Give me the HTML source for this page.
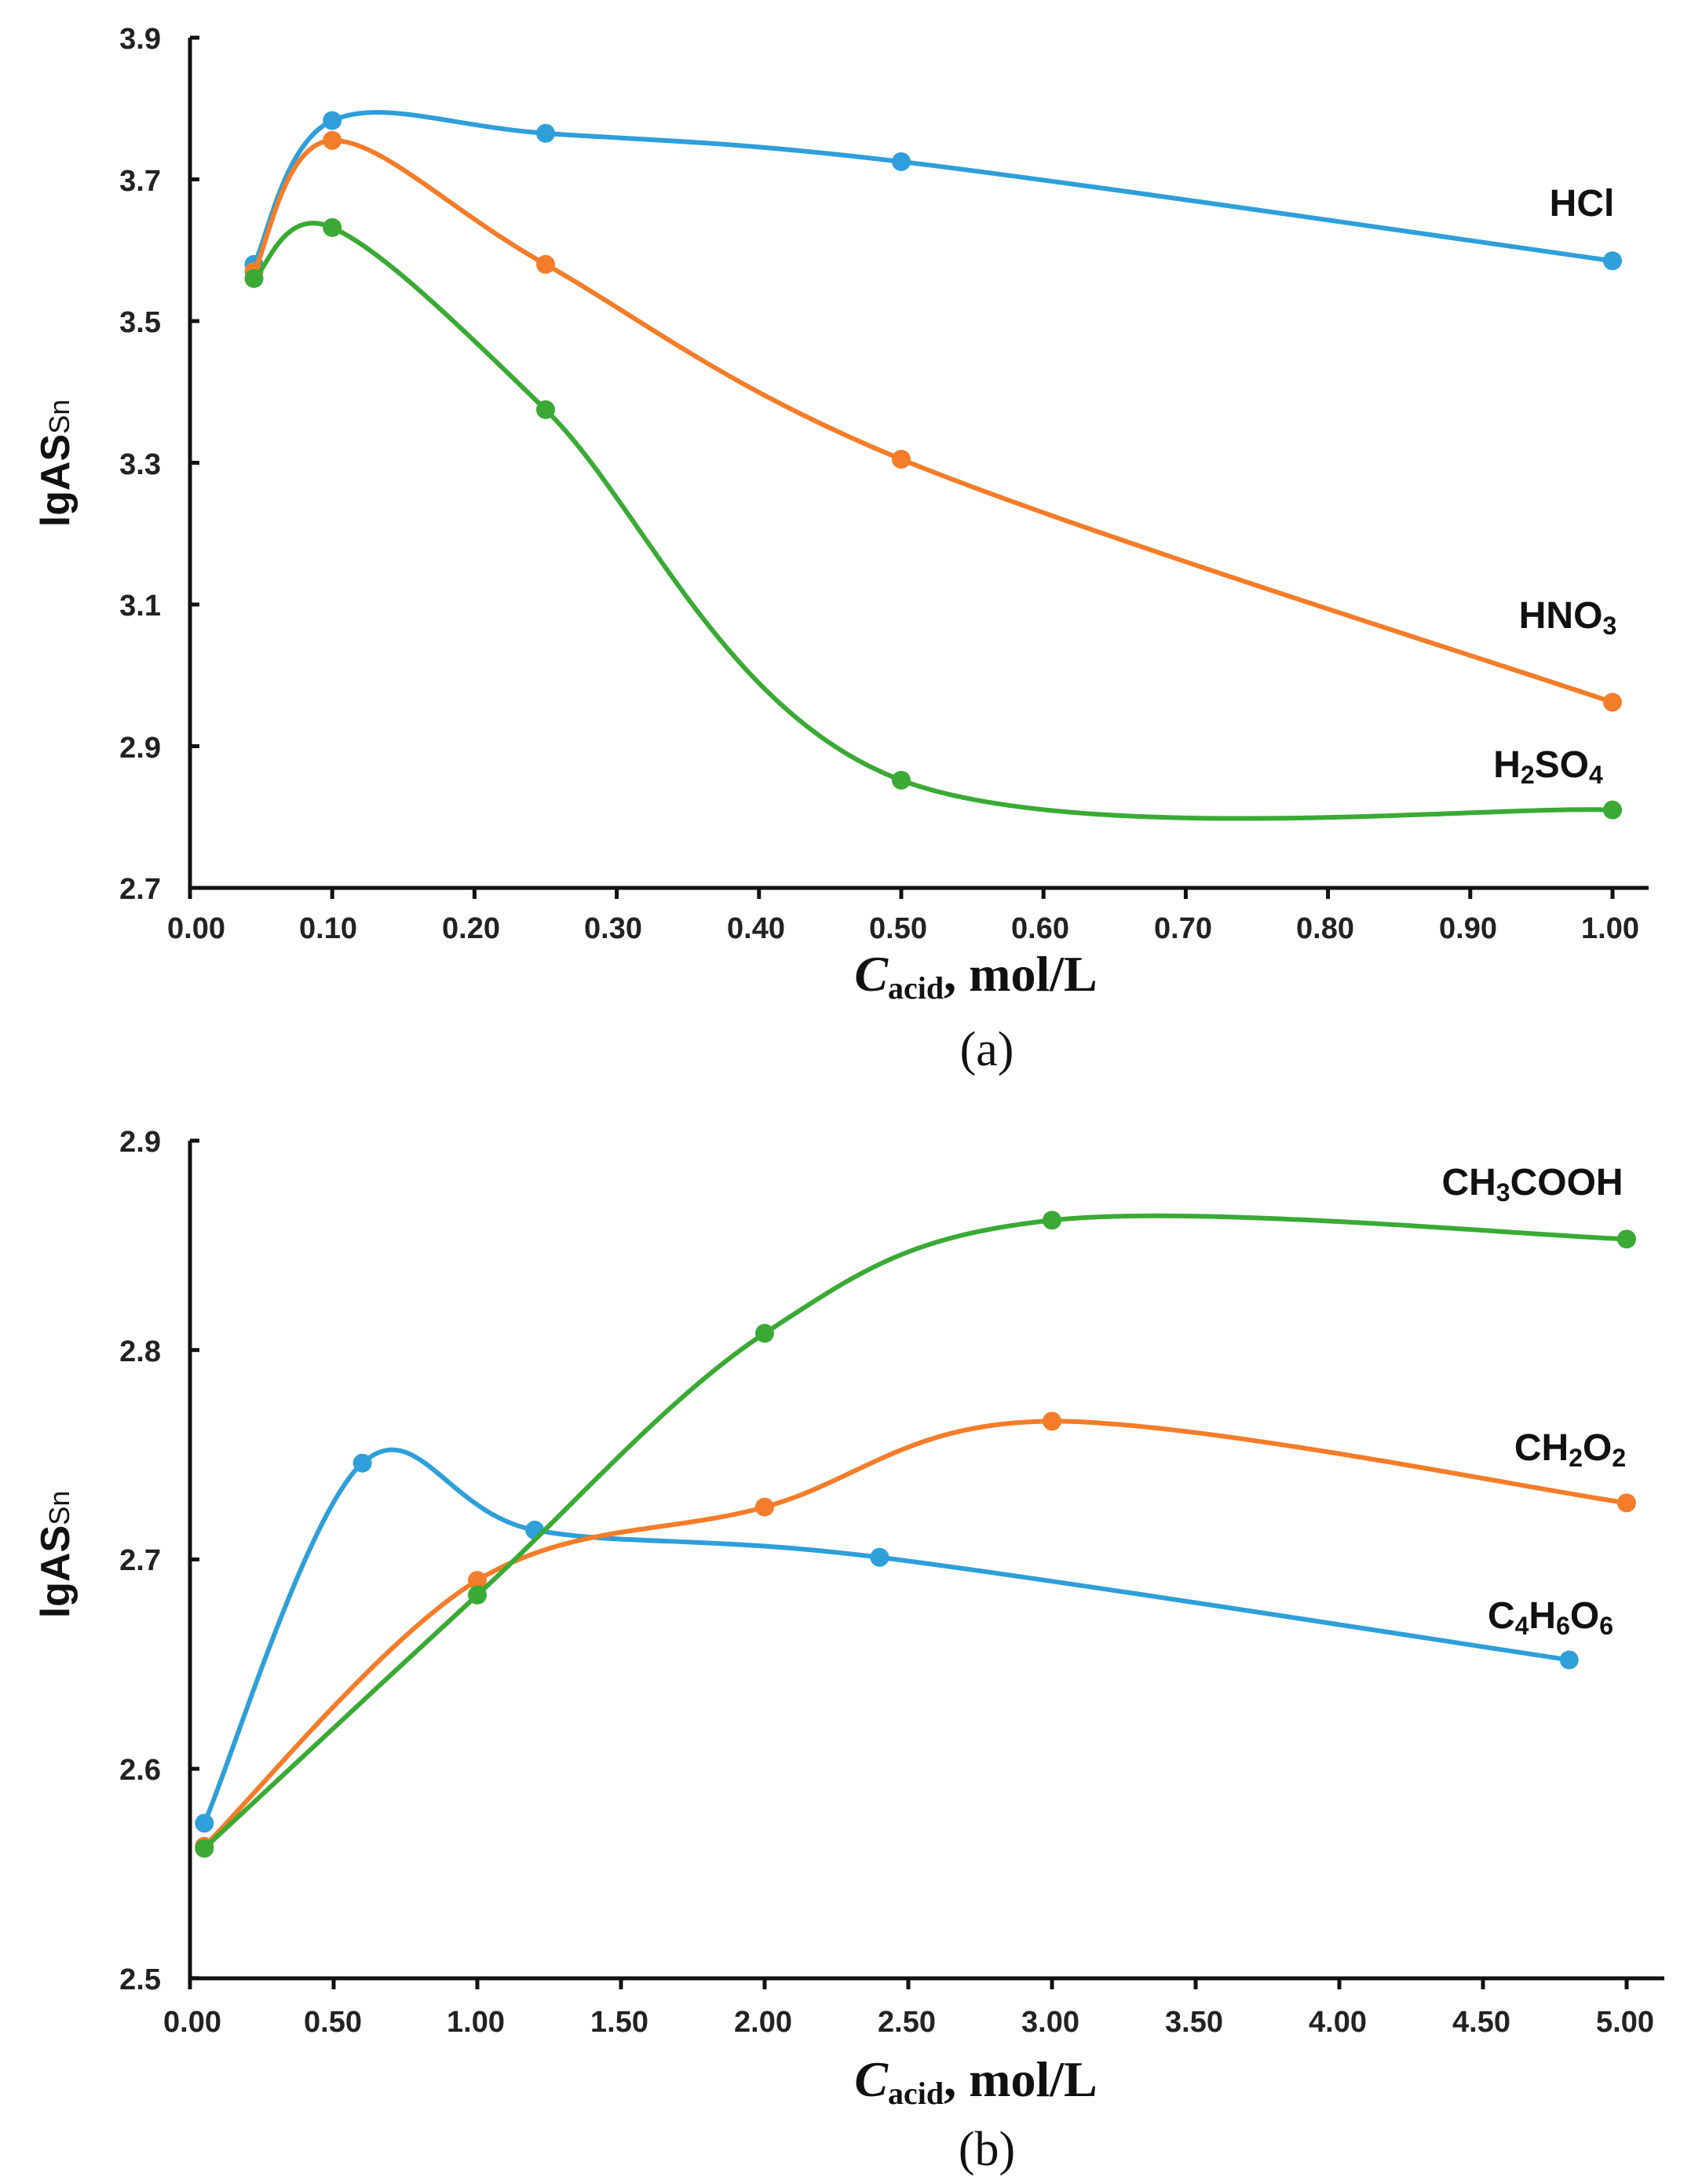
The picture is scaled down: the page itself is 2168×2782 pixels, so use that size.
<!DOCTYPE html>
<html><head><meta charset="utf-8"><style>
html,body{margin:0;padding:0;background:#fff;}
svg{display:block;}
.tk{font-family:"Liberation Sans",sans-serif;font-weight:bold;font-size:38px;fill:#222;}
.lb{font-family:"Liberation Sans",sans-serif;font-weight:bold;font-size:48px;fill:#111;}
.xl{font-family:"Liberation Serif",serif;font-weight:bold;font-size:64px;fill:#111;}
.cap{font-family:"Liberation Serif",serif;font-size:62px;fill:#111;}
</style></head><body>
<svg id="s" width="2168" height="2782" viewBox="0 0 2168 2782" xmlns="http://www.w3.org/2000/svg">
<line x1="242" y1="48" x2="242" y2="1131" stroke="#111" stroke-width="5"/>
<line x1="240" y1="1131" x2="2100" y2="1131" stroke="#111" stroke-width="5"/>
<g class="tk" text-anchor="end">
<text x="205" y="62">3.9</text><text x="205" y="243">3.7</text><text x="205" y="423">3.5</text>
<text x="205" y="604">3.3</text><text x="205" y="784">3.1</text><text x="205" y="965">2.9</text><text x="205" y="1145">2.7</text>
</g>
<g class="tk" text-anchor="middle">
<text x="250" y="1195">0.00</text><text x="418" y="1195">0.10</text><text x="600" y="1195">0.20</text><text x="781" y="1195">0.30</text>
<text x="963" y="1195">0.40</text><text x="1144" y="1195">0.50</text><text x="1325" y="1195">0.60</text><text x="1507" y="1195">0.70</text>
<text x="1688" y="1195">0.80</text><text x="1870" y="1195">0.90</text><text x="2051" y="1195">1.00</text>
</g>
<text class="lb" transform="translate(88,590) rotate(-90)" text-anchor="middle" style="font-size:52px">lgAS<tspan style="font-size:36px;font-weight:normal">Sn</tspan></text>
<g class="lb" text-anchor="middle">
<text x="2015" y="275">HCl</text>
<text x="1997" y="800">HNO<tspan style="font-size:32px" dy="8">3</tspan></text>
<text x="1972" y="990">H<tspan style="font-size:32px" dy="8">2</tspan><tspan dy="-8">SO</tspan><tspan style="font-size:32px" dy="8">4</tspan></text>
</g>
<text class="xl" x="1243" y="1262" text-anchor="middle"><tspan font-style="italic">C</tspan><tspan style="font-size:40px" dy="10">acid</tspan><tspan dy="-10">, mol/L</tspan></text>
<text class="cap" x="1257" y="1357" text-anchor="middle">(a)</text>

<line x1="242" y1="1453" x2="242" y2="2520" stroke="#111" stroke-width="5"/>
<line x1="240" y1="2520" x2="2120" y2="2520" stroke="#111" stroke-width="5"/>
<g class="tk" text-anchor="end">
<text x="205" y="1467">2.9</text><text x="205" y="1734">2.8</text><text x="205" y="2000">2.7</text>
<text x="205" y="2267">2.6</text><text x="205" y="2534">2.5</text>
</g>
<g class="tk" text-anchor="middle">
<text x="245" y="2588">0.00</text><text x="424" y="2588">0.50</text><text x="606" y="2588">1.00</text><text x="789" y="2588">1.50</text>
<text x="972" y="2588">2.00</text><text x="1155" y="2588">2.50</text><text x="1338" y="2588">3.00</text><text x="1521" y="2588">3.50</text>
<text x="1704" y="2588">4.00</text><text x="1887" y="2588">4.50</text><text x="2070" y="2588">5.00</text>
</g>
<text class="lb" transform="translate(88,1980) rotate(-90)" text-anchor="middle" style="font-size:52px">lgAS<tspan style="font-size:36px;font-weight:normal">Sn</tspan></text>
<g class="lb" text-anchor="middle">
<text x="1952" y="1522">CH<tspan style="font-size:32px" dy="8">3</tspan><tspan dy="-8">COOH</tspan></text>
<text x="2000" y="1860">CH<tspan style="font-size:32px" dy="8">2</tspan><tspan dy="-8">O</tspan><tspan style="font-size:32px" dy="8">2</tspan></text>
<text x="1975" y="2074">C<tspan style="font-size:32px" dy="8">4</tspan><tspan dy="-8">H</tspan><tspan style="font-size:32px" dy="8">6</tspan><tspan dy="-8">O</tspan><tspan style="font-size:32px" dy="8">6</tspan></text>
</g>
<text class="xl" x="1243" y="2670" text-anchor="middle"><tspan font-style="italic">C</tspan><tspan style="font-size:40px" dy="10">acid</tspan><tspan dy="-10">, mol/L</tspan></text>
<text class="cap" x="1257" y="2758" text-anchor="middle">(b)</text>
<g id="ticks" stroke="#111" stroke-width="5"></g>
<g id="curves"></g>
</svg>
<script>
var NS="http://www.w3.org/2000/svg",g=document.getElementById("curves"),tg=document.getElementById("ticks");
function ln(x1,y1,x2,y2){var l=document.createElementNS(NS,"line");l.setAttribute("x1",x1);l.setAttribute("y1",y1);l.setAttribute("x2",x2);l.setAttribute("y2",y2);tg.appendChild(l);}
for(var i=0;i<=10;i++){var x=242+i*181.2;ln(x,1131,x,1145);}
for(var i=0;i<=6;i++){var y=48+i*180.5;ln(242,y,254,y);}
for(var i=0;i<=10;i++){var x=242+i*183;ln(x,2520,x,2534);}
for(var i=0;i<=4;i++){var y=1453+i*266.7;ln(242,y,254,y);}
function ax(v){return 242+v*1812;} function ay(v){return 48+(3.9-v)/0.2*180.5;}
function bx(v){return 242+v*366;} function by(v){return 1453+(2.9-v)*2667;}
function draw(pts,col){
 var d="M"+pts[0][0]+","+pts[0][1];
 for(var i=0;i<pts.length-1;i++){
  var p0=pts[i-1]||pts[i],p1=pts[i],p2=pts[i+1],p3=pts[i+2]||p2,t=6;
  d+=" C"+(p1[0]+(p2[0]-p0[0])/t)+","+(p1[1]+(p2[1]-p0[1])/t)+" "+(p2[0]-(p3[0]-p1[0])/t)+","+(p2[1]-(p3[1]-p1[1])/t)+" "+p2[0]+","+p2[1];
 }
 var p=document.createElementNS(NS,"path");p.setAttribute("d",d);p.setAttribute("fill","none");
 p.setAttribute("stroke",col);p.setAttribute("stroke-width","6");g.appendChild(p);
 pts.forEach(function(q){var c=document.createElementNS(NS,"circle");c.setAttribute("cx",q[0]);c.setAttribute("cy",q[1]);c.setAttribute("r","12");c.setAttribute("fill",col);g.appendChild(c);});
}
var B="#2e9fd9",O="#f57c28",G="#3aaa35";
function A(a){return a.map(function(p){return [ax(p[0]),ay(p[1])];});}
function Bb(a){return a.map(function(p){return [bx(p[0]),by(p[1])];});}
draw(A([[0.045,3.58],[0.10,3.783],[0.25,3.765],[0.50,3.725],[1.0,3.585]]),B);
draw(A([[0.045,3.57],[0.10,3.755],[0.25,3.58],[0.50,3.305],[1.0,2.962]]),O);
draw(A([[0.045,3.56],[0.10,3.632],[0.25,3.375],[0.50,2.852],[1.0,2.81]]),G);
draw(Bb([[0.05,2.574],[0.6,2.746],[1.2,2.714],[2.4,2.701],[4.8,2.652]]),B);
draw(Bb([[0.05,2.563],[1.0,2.69],[2.0,2.725],[3.0,2.766],[5.0,2.727]]),O);
draw(Bb([[0.05,2.562],[1.0,2.683],[2.0,2.808],[3.0,2.862],[5.0,2.853]]),G);
</script>
</body></html>
